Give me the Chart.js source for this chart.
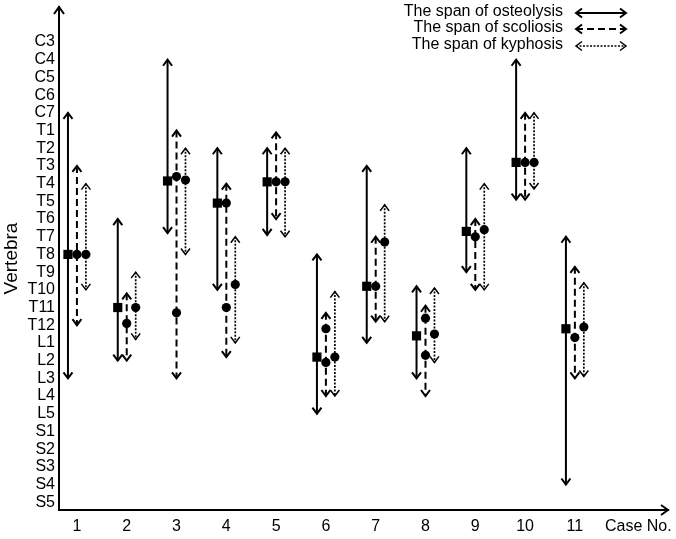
<!DOCTYPE html>
<html>
<head>
<meta charset="utf-8">
<script src="https://cdn.jsdelivr.net/npm/chart.js@4.4.0/dist/chart.umd.min.js"></script>
<style>
    html, body { margin: 0; padding: 0; background: #fff; }
    #wrap { width: 676px; height: 539px; }
</style>
</head>
<body>
<div id="wrap"><canvas id="spanChart"></canvas></div>
<script>
const vertebrae = ['C3', 'C4', 'C5', 'C6', 'C7',
    'T1', 'T2', 'T3', 'T4', 'T5', 'T6', 'T7', 'T8', 'T9', 'T10', 'T11', 'T12',
    'L1', 'L2', 'L3', 'L4', 'L5',
    'S1', 'S2', 'S3', 'S4', 'S5'];
const cases = [1, 2, 3, 4, 5, 6, 7, 8, 9, 10, 11];

// values are vertebra positions (0 = C3 ... 26 = S5)
const osteolysisTop = [4, 10, 1, 6, 6, 12, 7, 13.8, 6, 1, 11];
const osteolysisBottom = [19, 18, 10.8, 14, 10.9, 21, 17, 19, 13, 8.9, 25];
const osteolysisMark = [12, 15, 7.85, 9.1, 7.9, 17.8, 13.8, 16.6, 10.7, 6.8, 16.2];

const scoliosisTop = [7, 14.2, 5, 8, 5.1, 15.3, 11, 14.9, 10, 4, 12.7];
const scoliosisBottom = [16, 18, 19, 17.8, 10, 20, 15.8, 20, 14, 8.9, 19];
const scoliosisMarks = [[12], [15.9], [7.6, 15.3], [9.1, 15], [7.9], [16.2, 18.1], [13.8], [15.6, 17.7], [11], [6.8], [16.7]];

const kyphosisTop = [8, 13, 6, 11, 6, 14.1, 9.2, 13.9, 8, 4, 13.6];
const kyphosisBottom = [14, 16.8, 12, 17, 11, 20, 15.8, 18.1, 14, 8.3, 18.9];
const kyphosisMark = [12, 15, 7.8, 13.7, 7.9, 17.8, 11.3, 16.5, 10.6, 6.8, 16.1];

const legendLabels = ['The span of osteolysis', 'The span of scoliosis', 'The span of kyphosis'];

const FONT = "'Liberation Sans', Arial, Helvetica, sans-serif";

const spans = [
    { top: osteolysisTop, bottom: osteolysisBottom, shift: -0.18, width: 2, dash: [], head: 2 },
    { top: scoliosisTop, bottom: scoliosisBottom, shift: 0, width: 2, dash: [7, 4], head: 2 },
    { top: kyphosisTop, bottom: kyphosisBottom, shift: 0.18, width: 1.7, dash: [2, 1.5], head: 1.5 }
];

const datasets = [];

// markers first so they sit on top
datasets.push({
    data: cases.map((c, i) => ({ x: c + spans[0].shift, y: osteolysisMark[i] })),
    pointStyle: 'rect', pointRadius: 6.5, backgroundColor: '#000', borderColor: '#000',
    borderWidth: 0, order: 0, clip: false
});
const scolioPoints = [];
cases.forEach((c, i) => scoliosisMarks[i].forEach(v => scolioPoints.push({ x: c + spans[1].shift, y: v })));
datasets.push({
    data: scolioPoints,
    pointStyle: 'circle', pointRadius: 4.6, backgroundColor: '#000', borderColor: '#000',
    borderWidth: 0, order: 0, clip: false
});
datasets.push({
    data: cases.map((c, i) => ({ x: c + spans[2].shift, y: kyphosisMark[i] })),
    pointStyle: 'circle', pointRadius: 4.6, backgroundColor: '#000', borderColor: '#000',
    borderWidth: 0, order: 0, clip: false
});

spans.forEach(s => {
    cases.forEach((c, i) => {
        datasets.push({
            data: [{ x: c + s.shift, y: s.top[i] }, { x: c + s.shift, y: s.bottom[i] }],
            showLine: true,
            borderColor: '#000',
            borderWidth: s.width,
            borderDash: s.dash,
            pointRadius: 0,
            order: 1,
            clip: false,
            isSpan: true,
            headWidth: s.head
        });
    });
});

function drawHead(ctx, x, y, dx, dy, size, half) {
    ctx.beginPath();
    ctx.moveTo(x - dx * size + dy * half, y - dy * size + dx * half);
    ctx.lineTo(x, y);
    ctx.lineTo(x - dx * size - dy * half, y - dy * size - dx * half);
    ctx.stroke();
}

function noEdgePadding(scale) {
    scale.paddingTop = 0;
    scale.paddingBottom = 0;
    scale.paddingLeft = 0;
    scale.paddingRight = 0;
}

const arrowPlugin = {
    id: 'arrowHeads',
    afterDatasetsDraw(chart) {
        const ctx = chart.ctx;
        ctx.save();
        ctx.strokeStyle = '#000';
        ctx.setLineDash([]);
        chart.data.datasets.forEach((ds, i) => {
            if (!ds.isSpan) return;
            const pts = chart.getDatasetMeta(i).data;
            const a = pts[0], b = pts[1];
            const up = a.y < b.y ? a : b;
            const down = a.y < b.y ? b : a;
            ctx.lineWidth = ds.headWidth;
            drawHead(ctx, up.x, up.y, 0, -1, 6, 4.5);
            drawHead(ctx, down.x, down.y, 0, 1, 6, 4.5);
        });
        ctx.restore();
    },
    afterDraw(chart) {
        const ctx = chart.ctx;
        const area = chart.chartArea;
        ctx.save();
        ctx.strokeStyle = '#000';
        ctx.fillStyle = '#000';
        ctx.setLineDash([]);

        // axis arrow heads
        ctx.lineWidth = 2;
        drawHead(ctx, area.left, area.top, 0, -1, 7, 5);
        drawHead(ctx, area.right, area.bottom, 1, 0, 7, 5);

        // "Case No." at the end of the x tick row
        ctx.font = '16px ' + FONT;
        ctx.textAlign = 'left';
        ctx.textBaseline = 'middle';
        ctx.fillText('Case No.', 605, 527);

        // legend
        const ly = [12, 28, 45];
        legendLabels.forEach((label, i) => {
            ctx.textAlign = 'right';
            ctx.fillText(label, 563, ly[i]);
            const s = spans[i];
            ctx.lineWidth = s.width;
            ctx.setLineDash(s.dash);
            ctx.beginPath();
            ctx.moveTo(576, ly[i] + 1);
            ctx.lineTo(626, ly[i] + 1);
            ctx.stroke();
            ctx.setLineDash([]);
            ctx.lineWidth = s.head;
            drawHead(ctx, 576, ly[i] + 1, -1, 0, 6, 4.5);
            drawHead(ctx, 626, ly[i] + 1, 1, 0, 6, 4.5);
        });
        ctx.restore();
    }
};

document.addEventListener('DOMContentLoaded', function () {
    const ctx = document.getElementById('spanChart').getContext('2d');
    new Chart(ctx, {
        type: 'scatter',
        data: { datasets: datasets },
        options: {
            responsive: true,
            maintainAspectRatio: false,
            animation: false,
            layout: { padding: { top: 7, right: 8, left: 0, bottom: 0 } },
            plugins: {
                legend: { display: false },
                tooltip: { enabled: false }
            },
            scales: {
                x: {
                    type: 'linear',
                    min: 0.64,
                    max: 12.87,
                    grid: { display: false, drawTicks: false },
                    border: { display: true, color: '#000', width: 2 },
                    afterBuildTicks: scale => { scale.ticks = cases.map(c => ({ value: c })); },
                    ticks: {
                        autoSkip: false,
                        maxRotation: 0,
                        padding: 7,
                        color: '#000',
                        font: { size: 16, family: FONT },
                        callback: v => String(v)
                    },
                    afterFit: scale => { scale.height = 29; noEdgePadding(scale); }
                },
                y: {
                    type: 'linear',
                    reverse: true,
                    min: -1.98,
                    max: 26.44,
                    grid: { display: false, drawTicks: false },
                    border: { display: true, color: '#000', width: 2 },
                    afterBuildTicks: scale => { scale.ticks = vertebrae.map((v, i) => ({ value: i })); },
                    ticks: {
                        autoSkip: false,
                        padding: 4,
                        color: '#000',
                        font: { size: 16, family: FONT },
                        callback: v => vertebrae[v]
                    },
                    title: {
                        display: true,
                        text: 'Vertebra',
                        color: '#000',
                        padding: 0,
                        font: { size: 19, family: FONT }
                    },
                    afterFit: scale => { scale.width = 59; noEdgePadding(scale); }
                }
            }
        },
        plugins: [arrowPlugin]
    });
});
</script>
</body>
</html>
